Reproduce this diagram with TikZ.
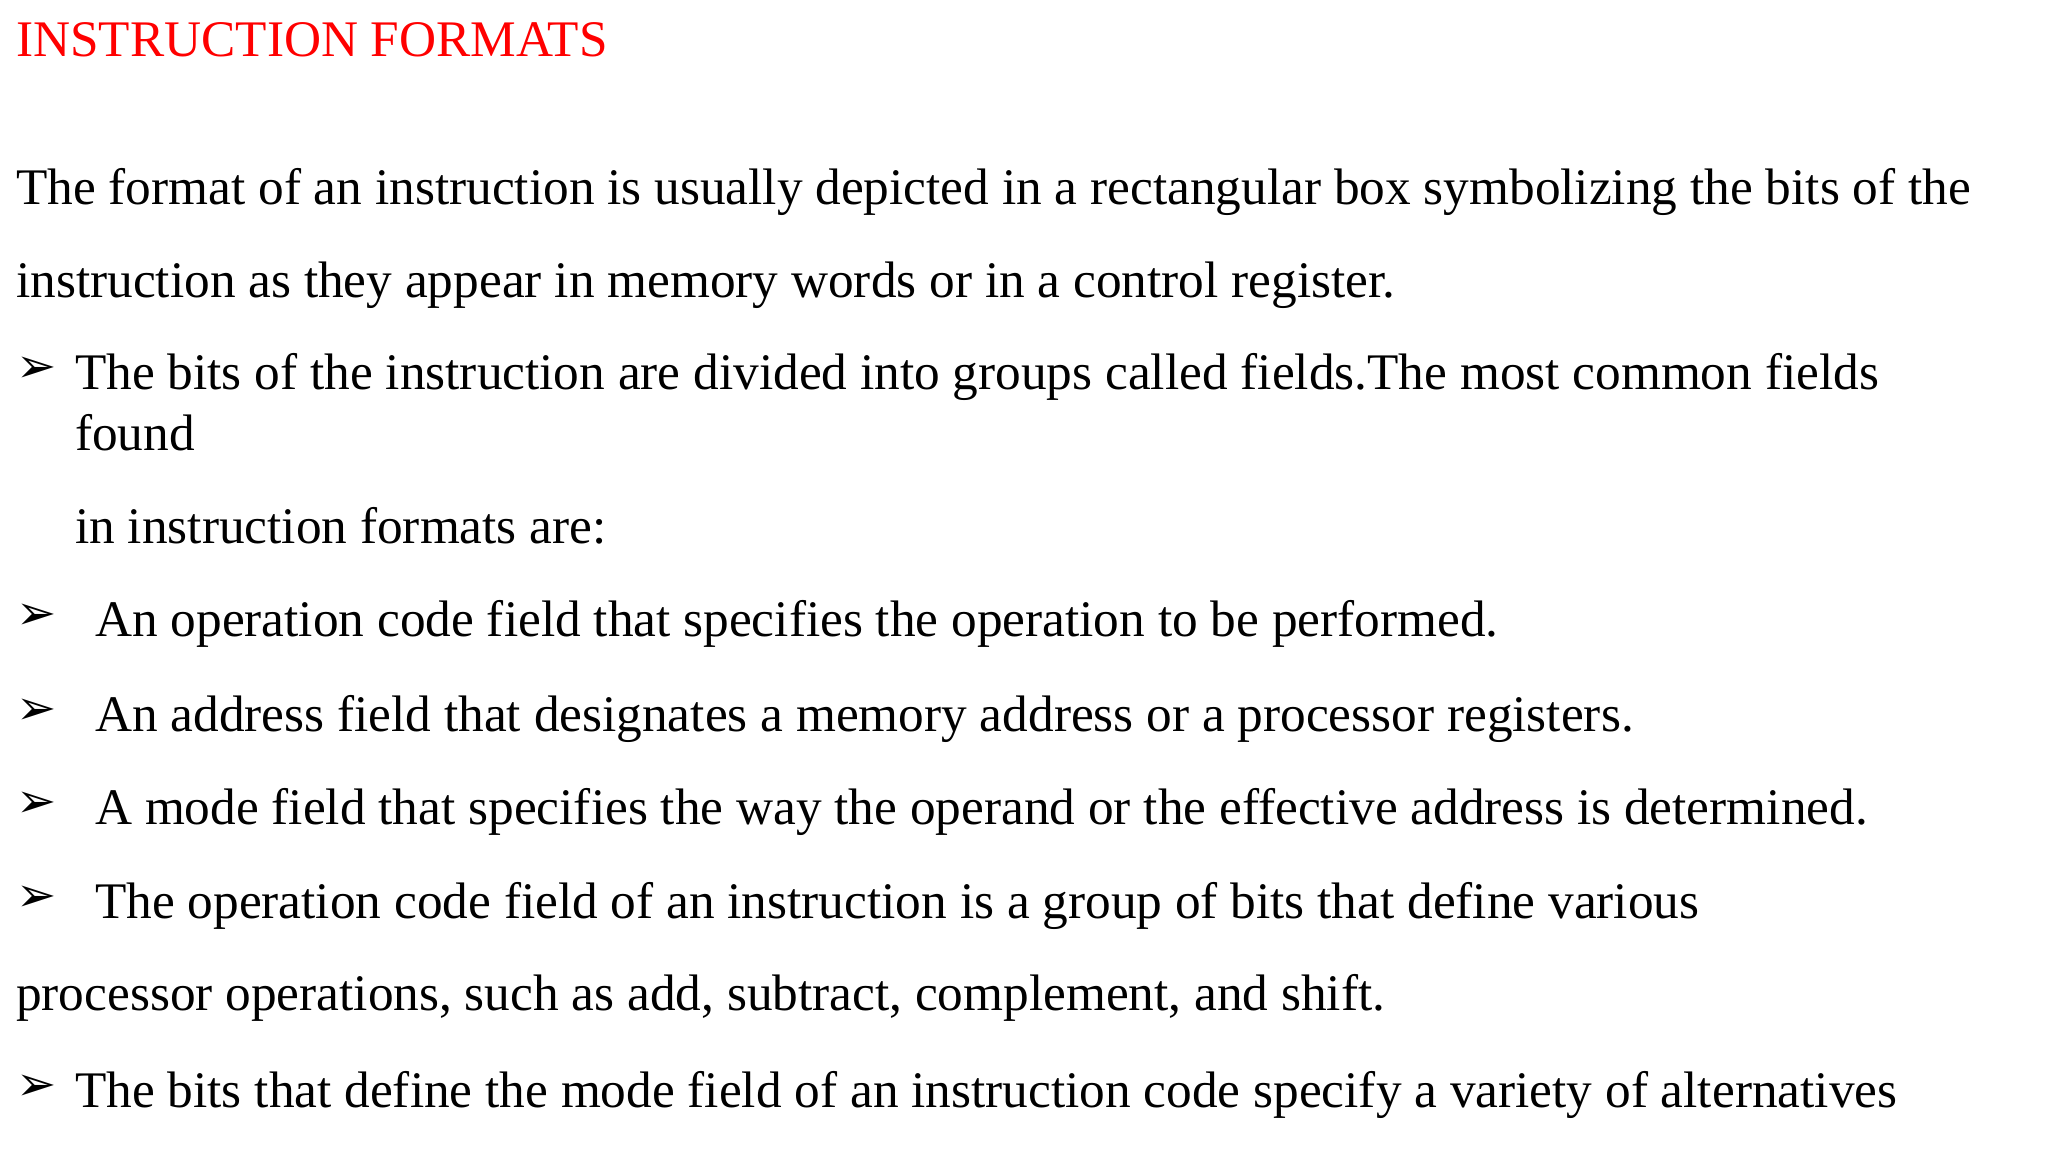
\documentclass[tikz,border=0pt]{standalone}
\usepackage{fontspec}
\setmainfont{Liberation Serif}
\newfontfamily\symfont{DejaVu Sans}
\begin{document}
\begin{tikzpicture}[x=1pt,y=-1pt]

    \tikzset{line/.style={%
      anchor=base west,%
      inner sep=0pt,%
      font=\fontsize{51.3}{60}\selectfont}%
    };

    \tikzset{bullet/.style={line, font=\fontsize{48}{56}\symfont\bfseries}};

    \useasboundingbox (0,0) rectangle (2048,1152);

    %%%%%%%%%%%%%%%
    %  heading    %
    %%%%%%%%%%%%%%%
    \node [line, text=red] (title) at (16,56) {INSTRUCTION FORMATS};

    \node [line] (intro1) at (16,204) {The format of an instruction is usually depicted in a rectangular box symbolizing the bits of the};
    \node [line] (intro2) at (16,297) {instruction as they appear in memory words or in a control register.};

    %%%%%%%%%%%%%%%
    %  bullets    %
    %%%%%%%%%%%%%%%
    \node [bullet] (b1) at (16,382) {➢};
    \node [line] (fld1) at (75,389) {The bits of the instruction are divided into groups called fields.The most common fields};
    \node [line] (fld2) at (75,450) {found};
    \node [line] (fld3) at (75,543) {in instruction formats are:};

    \node [bullet] (b2) at (16,629) {➢};
    \node [line] (opc) at (95,636) {An operation code field that specifies the operation to be performed.};
    \node [bullet] (b3) at (16,724) {➢};
    \node [line] (adr) at (95,731) {An address field that designates a memory address or a processor registers.};
    \node [bullet] (b4) at (16,817) {➢};
    \node [line] (mod) at (95,824) {A mode field that specifies the way the operand or the effective address is determined.};
    \node [bullet] (b5) at (16,911) {➢};
    \node [line] (ops1) at (95,918) {The operation code field of an instruction is a group of bits that define various};
    \node [line] (ops2) at (16,1010) {processor operations, such as add, subtract, complement, and shift.};
    \node [bullet] (b6) at (16,1100) {➢};
    \node [line] (alt) at (75,1107) {The bits that define the mode field of an instruction code specify a variety of alternatives};

  \end{tikzpicture}
\end{document}
